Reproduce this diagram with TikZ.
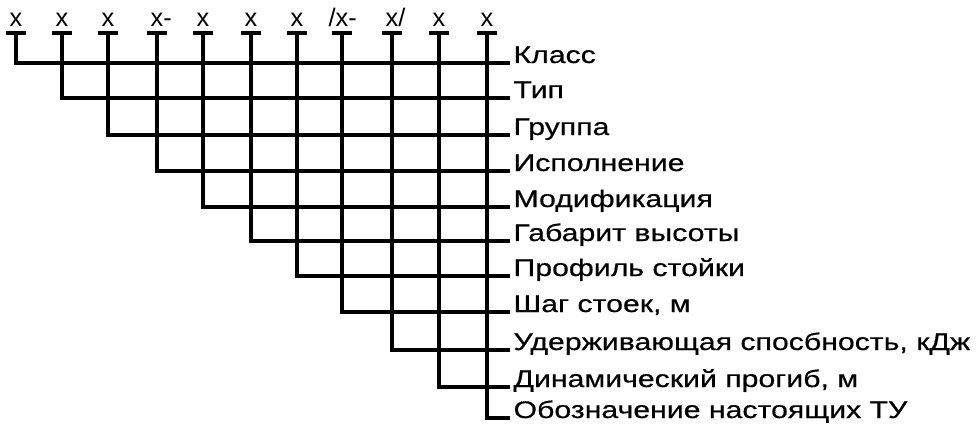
\documentclass[tikz,border=0pt]{standalone}
\usepackage{fontspec}
\setmainfont{Liberation Sans}
\newfontfamily\fieldfont[FakeStretch=1.26,FakeBold=0.5]{Liberation Sans}

\begin{document}
\begin{tikzpicture}[x=0.75pt,y=-0.75pt,
  line width=2.3pt,
  codenode/.style={anchor=base,inner sep=0pt,font=\fontsize{19}{20}\selectfont},
  fieldnode/.style={anchor=base west,inner sep=0pt,font=\fieldfont\fontsize{18}{20}\selectfont},
  teebar/.style={line cap=butt}
]
\useasboundingbox (0,0) rectangle (980,428);

% the code positions
\node[codenode] (c1) at (16,27) {x};
\node[codenode] (c2) at (62,27) {x};
\node[codenode] (c3) at (108,27) {x};
\node[codenode] (c4) at (157,27) {x\rlap{-}};
\node[codenode] (c5) at (203,27) {x};
\node[codenode] (c6) at (251,27) {x};
\node[codenode] (c7) at (297,27) {x};
\node[codenode] (c8) at (342,27) {\llap{/}x\rlap{-}};
\node[codenode] (c9) at (392,27) {x\rlap{/}};
\node[codenode] (c10) at (439,27) {x};
\node[codenode] (c11) at (487,27) {x};

% the tees under them
\coordinate (t1) at (16,33);
\coordinate (t2) at (62,33);
\coordinate (t3) at (108,33);
\coordinate (t4) at (157,33);
\coordinate (t5) at (203,33);
\coordinate (t6) at (251,33);
\coordinate (t7) at (297,33);
\coordinate (t8) at (342,33);
\coordinate (t9) at (392,33);
\coordinate (t10) at (439,33);
\coordinate (t11) at (487,33);

% the fields
\node[fieldnode] (f1) at (512,63) {Класс};
\node[fieldnode] (f2) at (512,98) {Тип};
\node[fieldnode] (f3) at (512,135) {Группа};
\node[fieldnode] (f4) at (512,171) {Исполнение};
\node[fieldnode] (f5) at (512,207) {Модификация};
\node[fieldnode] (f6) at (512,241) {Габарит высоты};
\node[fieldnode] (f7) at (512,276) {Профиль стойки};
\node[fieldnode] (f8) at (512,312) {Шаг стоек, м};
\node[fieldnode] (f9) at (512,350) {Удерживающая спосбность, кДж};
\node[fieldnode] (f10) at (512,387) {Динамический прогиб, м};
\node[fieldnode] (f11) at (512,418) {Обозначение настоящих ТУ};

% the bars
\draw[teebar] (t1) ++(-10,0) -- ++(20,0);
\draw[teebar] (t2) ++(-10,0) -- ++(20,0);
\draw[teebar] (t3) ++(-10,0) -- ++(20,0);
\draw[teebar] (t4) ++(-10,0) -- ++(20,0);
\draw[teebar] (t5) ++(-10,0) -- ++(20,0);
\draw[teebar] (t6) ++(-10,0) -- ++(20,0);
\draw[teebar] (t7) ++(-10,0) -- ++(20,0);
\draw[teebar] (t8) ++(-10,0) -- ++(20,0);
\draw[teebar] (t9) ++(-10,0) -- ++(20,0);
\draw[teebar] (t10) ++(-10,0) -- ++(20,0);
\draw[teebar] (t11) ++(-10,0) -- ++(20,0);

% the leads
\draw (t1) |- ([xshift=-1.5pt]f1.base west);
\draw (t2) |- ([xshift=-1.5pt]f2.base west);
\draw (t3) |- ([xshift=-1.5pt]f3.base west);
\draw (t4) |- ([xshift=-1.5pt]f4.base west);
\draw (t5) |- ([xshift=-1.5pt]f5.base west);
\draw (t6) |- ([xshift=-1.5pt]f6.base west);
\draw (t7) |- ([xshift=-1.5pt]f7.base west);
\draw (t8) |- ([xshift=-1.5pt]f8.base west);
\draw (t9) |- ([xshift=-1.5pt]f9.base west);
\draw (t10) |- ([xshift=-1.5pt]f10.base west);
\draw (t11) |- ([xshift=-1.5pt]f11.base west);
\end{tikzpicture}
\end{document}
